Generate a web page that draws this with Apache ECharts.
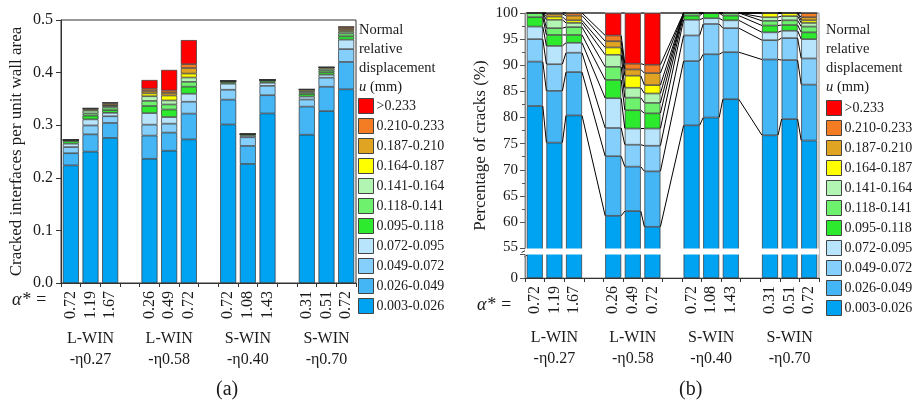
<!DOCTYPE html>
<html><head><meta charset="utf-8">
<script src="https://cdn.jsdelivr.net/npm/echarts@6/dist/echarts.min.js"></script>
<style>html,body{margin:0;padding:0;background:#fff}#c{width:924px;height:407px}</style>
</head><body><div id="c"></div>
<script>
// ---------- data ----------
const alphaLabels = ['0.72','1.19','1.67','0.26','0.49','0.72','0.72','1.08','1.43','0.31','0.51','0.72'];
const groupLabels = ['L-WIN\n-η0.27','L-WIN\n-η0.58','S-WIN\n-η0.40','S-WIN\n-η0.70'];
const binNames = ['0.003-0.026','0.026-0.049','0.049-0.072','0.072-0.095','0.095-0.118','0.118-0.141','0.141-0.164','0.164-0.187','0.187-0.210','0.210-0.233','>0.233'];
const binColors = ['#00a2f2','#44b6f6','#84cffb','#b8e4fc','#2eea2e','#6ef26e','#b2f4b2','#ffff00','#e0a422','#f47c22','#ff0000'];

// (a) cracked interfaces per unit wall area, by displacement bin
const area_003_026 = [0.2236,0.2497,0.2758,0.2362,0.2515,0.2730,0.3014,0.2264,0.3223,0.2819,0.3268,0.3682];
const area_026_049 = [0.0231,0.0329,0.0285,0.0440,0.0344,0.0490,0.0472,0.0342,0.0347,0.0534,0.0463,0.0521];
const area_049_072 = [0.0117,0.0169,0.0127,0.0208,0.0170,0.0226,0.0188,0.0164,0.0178,0.0136,0.0172,0.0244];
const area_072_095 = [0.0065,0.0116,0.0065,0.0220,0.0126,0.0152,0.0115,0.0031,0.0058,0.0055,0.0057,0.0180];
const area_095_118 = [0.0049,0.0070,0.0051,0.0135,0.0142,0.0134,0.0031,0.0028,0.0035,0.0048,0.0045,0.0063];
const area_118_141 = [0.0022,0.0043,0.0051,0.0097,0.0097,0.0092,0.0019,0,0.0019,0.0033,0.0037,0.0054];
const area_141_164 = [0,0.0053,0.0027,0.0089,0.0077,0.0083,0,0,0,0.0026,0.0033,0.0034];
const area_164_187 = [0,0.0020,0.0017,0.0054,0.0093,0.0074,0,0,0,0.0029,0.0025,0.0024];
const area_187_210 = [0,0.0017,0.0031,0.0046,0.0049,0.0106,0,0,0,0,0,0.0029];
const area_210_233 = [0,0.0007,0.0017,0.0042,0.0045,0.0074,0,0,0,0,0,0.0039];
const area_gt_233  = [0,0,0,0.0166,0.0393,0.0457,0,0,0,0,0,0];

// (b) percentage of cracks, by displacement bin
const pct_003_026 = [82.2,75.2,80.4,61.2,62.1,59.1,78.5,80.0,83.5,76.6,79.7,75.6];
const pct_026_049 = [8.5,9.9,8.3,11.4,8.5,10.6,12.3,12.1,9.0,14.5,11.3,10.7];
const pct_049_072 = [4.3,5.1,3.7,5.4,4.2,4.9,4.9,5.8,4.6,3.7,4.2,5.0];
const pct_072_095 = [2.4,3.5,1.9,5.7,3.1,3.3,3.0,1.1,1.5,1.5,1.4,3.7];
const pct_095_118 = [1.8,2.1,1.5,3.5,3.5,2.9,0.8,1.0,0.9,1.3,1.1,1.3];
const pct_118_141 = [0.8,1.3,1.5,2.5,2.4,2.0,0.5,0,0.5,0.9,0.9,1.1];
const pct_141_164 = [0,1.6,0.8,2.3,1.9,1.8,0,0,0,0.7,0.8,0.7];
const pct_164_187 = [0,0.6,0.5,1.4,2.3,1.6,0,0,0,0.8,0.6,0.5];
const pct_187_210 = [0,0.5,0.9,1.2,1.2,2.3,0,0,0,0,0,0.6];
const pct_210_233 = [0,0.2,0.5,1.1,1.1,1.6,0,0,0,0,0,0.8];
const pct_gt_233  = [0,0,0,4.3,9.7,9.9,0,0,0,0,0,0];

const areaBins = [area_003_026,area_026_049,area_049_072,area_072_095,area_095_118,area_118_141,area_141_164,area_164_187,area_187_210,area_210_233,area_gt_233];
const pctBins = [pct_003_026,pct_026_049,pct_049_072,pct_072_095,pct_095_118,pct_118_141,pct_141_164,pct_164_187,pct_187_210,pct_210_233,pct_gt_233];

// ---------- layout helpers ----------
const NSLOT = 15;
const slotOf = i => i + Math.floor(i / 3);
function toSlots(arr, fill) { const o = new Array(NSLOT).fill(fill); arr.forEach((v, i) => { o[slotOf(i)] = v; }); return o; }
const slotCats = toSlots(alphaLabels, '');
const groupCats = new Array(NSLOT).fill('');
groupLabels.forEach((g, j) => { groupCats[j * 4 + 1] = g; });

const FONT = 'Liberation Serif';
const TXT = '#1a1a1a';
const BW = 16;

// connecting lines between consecutive bars in (b)
const linkData = [];
for (let i = 0; i < alphaLabels.length - 1; i++) {
  let ca = 0, cb = 0;
  for (let k = 0; k < pctBins.length; k++) {
    ca += pctBins[k][i]; cb += pctBins[k][i + 1];
    linkData.push([slotOf(i), slotOf(i + 1), Math.min(ca, 100), Math.min(cb, 100)]);
  }
}

const catAxis = (grid) => ({
  type: 'category', gridIndex: grid, data: slotCats, boundaryGap: true,
  axisLine: { show: true, lineStyle: { color: '#333', width: 1 } },
  axisTick: { show: true, inside: false, length: 4, alignWithLabel: false, lineStyle: { color: '#333' } },
  axisLabel: { interval: 0, rotate: 90, fontFamily: FONT, fontSize: 16, color: TXT, margin: 8 },
  splitLine: { show: false }
});
const grpAxis = (grid, off) => ({
  type: 'category', gridIndex: grid, data: groupCats, position: 'bottom', offset: off,
  axisLine: { show: false }, axisTick: { show: false },
  axisLabel: { interval: 0, fontFamily: FONT, fontSize: 16, color: TXT, lineHeight: 21, margin: 5 },
  splitLine: { show: false }
});

const series = [];
binNames.forEach((nm, k) => {
  series.push({
    name: nm, type: 'bar', xAxisIndex: 0, yAxisIndex: 0, stack: 'a', barWidth: BW,
    data: toSlots(areaBins[k], '-'),
    itemStyle: { color: binColors[k], borderColor: '#333', borderWidth: 0.7 },
    emphasis: { disabled: true }
  });
});
binNames.forEach((nm, k) => {
  series.push({
    name: nm, type: 'bar', xAxisIndex: 2, yAxisIndex: 1, stack: 'b', barWidth: BW,
    data: toSlots(pctBins[k], '-'),
    itemStyle: { color: binColors[k], borderColor: '#333', borderWidth: 0.7 },
    emphasis: { disabled: true }
  });
});
series.push({
  type: 'custom', xAxisIndex: 2, yAxisIndex: 1, data: linkData, silent: true, z: 5,
  encode: { x: [0, 1], y: [2, 3] },
  renderItem: function (params, api) {
    const a = api.coord([api.value(0), api.value(2)]);
    const b = api.coord([api.value(1), api.value(3)]);
    return { type: 'line', shape: { x1: a[0] + BW / 2, y1: a[1], x2: b[0] - BW / 2, y2: b[1] },
      style: { stroke: '#000', lineWidth: 1 } };
  }
});

const legendOf = (left, top) => ({
  orient: 'vertical', left: left, top: top, padding: 0, itemWidth: 15, itemHeight: 15, itemGap: 4,
  icon: 'rect', selectedMode: false, data: binNames.slice().reverse(),
  itemStyle: { borderColor: '#444', borderWidth: 1 },
  textStyle: { fontFamily: FONT, fontSize: 14, color: TXT, padding: [0, 0, 0, -2] }
});

const legTitle = (x) => ({
  type: 'text', left: x, top: 21,
  style: { text: 'Normal\nrelative\ndisplacement\n{i|u} (mm)', fontFamily: FONT, fontSize: 14.5, lineHeight: 19, fill: TXT,
    rich: { i: { fontStyle: 'italic', fontFamily: FONT, fontSize: 14.5 } } }
});

const breakMark = (x, y) => ({
  type: 'group', left: x, top: y, silent: true, children: [
    { type: 'rect', shape: { x: 0, y: 2, width: 12, height: 5 }, style: { fill: '#fff' } },
    { type: 'line', shape: { x1: 0, y1: 5, x2: 8, y2: 1 }, style: { stroke: '#333', lineWidth: 1 } },
    { type: 'line', shape: { x1: 3, y1: 9, x2: 11, y2: 5 }, style: { stroke: '#333', lineWidth: 1 } }
  ]
});

const option = {
  animation: false,
  backgroundColor: '#fff',
  grid: [
    { left: 61, top: 20, width: 295, height: 263, show: true, borderColor: '#333', borderWidth: 1, backgroundColor: 'transparent', containLabel: false, outerBoundsMode: 'none' },
    { left: 525, top: 13, width: 294, height: 265, show: true, borderColor: '#888', borderWidth: 1, backgroundColor: 'transparent', containLabel: false, outerBoundsMode: 'none' }
  ],
  legend: [legendOf(358, 98), legendOf(826, 100)],
  xAxis: [catAxis(0), grpAxis(0, 40), catAxis(1), grpAxis(1, 44)],
  yAxis: [
    { type: 'value', gridIndex: 0, min: 0, max: 0.5, interval: 0.1,
      name: 'Cracked interfaces per unit wall area', nameLocation: 'middle', nameGap: 36,
      nameTextStyle: { fontFamily: FONT, fontSize: 17, color: TXT },
      axisLine: { show: true, lineStyle: { color: '#333' } },
      axisTick: { show: true, length: 5, lineStyle: { color: '#333' } },
      axisLabel: { fontFamily: FONT, fontSize: 16, color: TXT, margin: 8, formatter: v => v.toFixed(1) },
      splitLine: { show: false } },
    { type: 'value', gridIndex: 1, min: 0, max: 100, interval: 5,
      breaks: [{ start: 4.5, end: 55, gap: 1.2 }],
      breakArea: { show: true, itemStyle: { color: '#fff', borderColor: '#fff', borderWidth: 0, opacity: 1 }, zigzagAmplitude: 0, zigzagZ: 100, expandOnClick: false },
      name: 'Percentage of cracks (%)', nameLocation: 'middle', nameGap: 36,
      nameTextStyle: { fontFamily: FONT, fontSize: 17, color: TXT },
      axisLine: { show: true, lineStyle: { color: '#888' } },
      axisTick: { show: true, length: 5, lineStyle: { color: '#555' } },
      minorTick: { show: true, splitNumber: 2, length: 3, lineStyle: { color: '#555' } },
      axisLabel: { fontFamily: FONT, fontSize: 15, color: TXT, margin: 7, formatter: v => (Math.abs(v % 5) < 1e-6 ? String(v) : '') },
      splitLine: { show: false } }
  ],
  graphic: [
    legTitle(359), legTitle(826),
    breakMark(519, 246),
    { type: 'text', left: 12, top: 291, style: { text: 'α* =', fontFamily: FONT, fontSize: 18, fontStyle: 'italic', fill: TXT } },
    { type: 'text', left: 477, top: 296, style: { text: 'α* =', fontFamily: FONT, fontSize: 18, fontStyle: 'italic', fill: TXT } },
    { type: 'text', left: 216, top: 380, style: { text: '(a)', fontFamily: FONT, fontSize: 20, fill: TXT } },
    { type: 'text', left: 679, top: 380, style: { text: '(b)', fontFamily: FONT, fontSize: 20, fill: TXT } }
  ],
  series: series
};
const chart = echarts.init(document.getElementById('c'), null, { renderer: 'canvas' });
chart.setOption(option);
</script>
</body></html>
